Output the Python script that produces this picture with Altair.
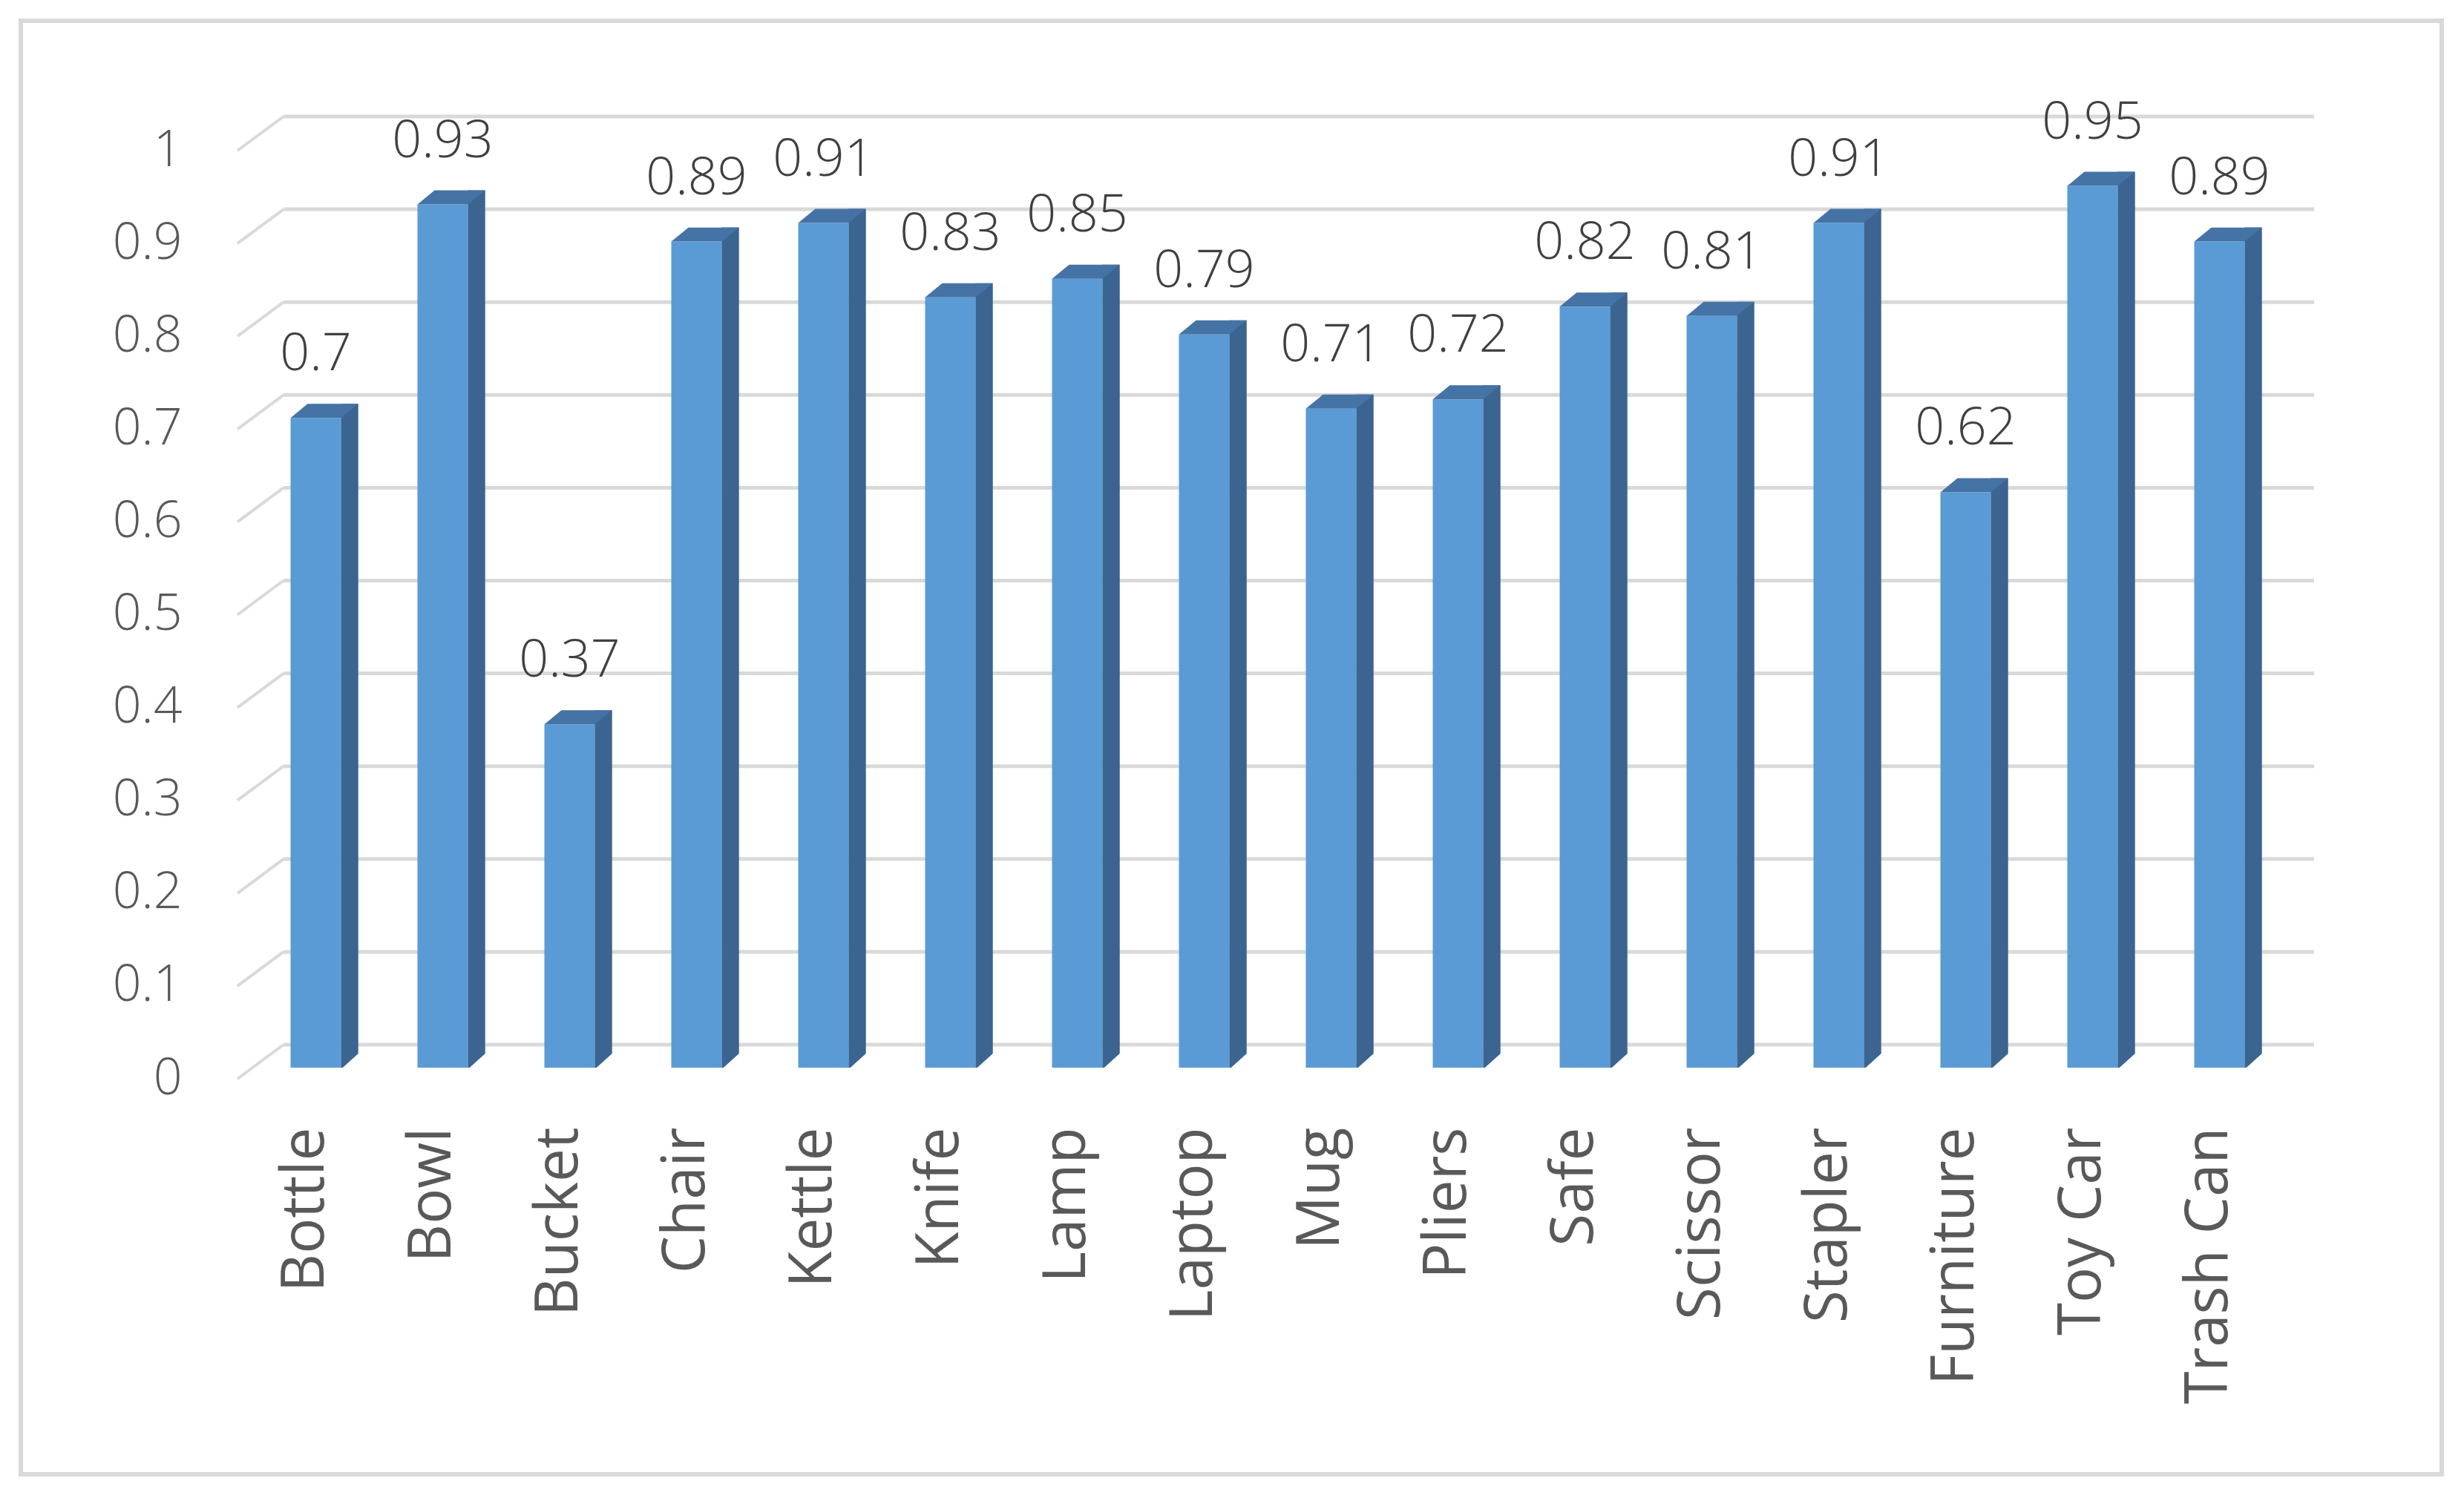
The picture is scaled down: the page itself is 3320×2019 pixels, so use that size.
import altair as alt
import pandas as pd

categories = ["Bottle", "Bowl", "Bucket", "Chair", "Kettle", "Knife", "Lamp", "Laptop",
              "Mug", "Pliers", "Safe", "Scissor", "Stapler", "Furniture", "Toy Car", "Trash Can"]
values = [0.7, 0.93, 0.37, 0.89, 0.91, 0.83, 0.85, 0.79, 0.71, 0.72, 0.82, 0.81, 0.91, 0.62, 0.95, 0.89]
y_ticks = [0, 0.1, 0.2, 0.3, 0.4, 0.5, 0.6, 0.7, 0.8, 0.9, 1]

df = pd.DataFrame({"cat": categories, "value": values, "zero": [0] * len(values)})
grid_df = pd.DataFrame({"v": y_ticks})

W, H = 2736, 1251
FONT = "Open Sans"
FRONT = "#5B9BD5"
SIDE = "#3B6590"
TOP = "#4573A5"
GRID = "#D9D9D9"
TXT = "#595959"

xenc = alt.X("cat:N", sort=categories, scale=alt.Scale(paddingInner=0, paddingOuter=0),
             axis=alt.Axis(title=None, labelAngle=-90, labelFontSize=80, labelFont=FONT,
                           labelColor=TXT, labelPadding=80, labelOffset=-14, ticks=False,
                           tickSize=0, domain=False, grid=False, labelAlign="right",
                           labelBaseline="middle", labelFontWeight="normal", labelLimit=2000))
yscale = alt.Scale(domain=[0, 1], nice=False, zero=True)

border = alt.Chart(pd.DataFrame({"a": [0]})).mark_rect(
    fill=None, stroke=GRID, strokeWidth=6
).encode(x=alt.value(-312), x2=alt.value(2950), y=alt.value(-160), y2=alt.value(1799))

grid = alt.Chart(grid_df).mark_rule(color=GRID, strokeWidth=5, yOffset=-31, y2Offset=-31).encode(
    y=alt.Y("v:Q", scale=yscale), x=alt.value(42), x2=alt.value(W + 42)
)
diag = alt.Chart(grid_df).mark_rule(color=GRID, strokeWidth=4, yOffset=15, y2Offset=-31).encode(
    y=alt.Y("v:Q", scale=yscale), y2="v:Q", x=alt.value(-20), x2=alt.value(42)
)

base = alt.Chart(df)

side = base.mark_bar(color=SIDE, width=23.5, xOffset=45.5, yOffset=-19).encode(
    x=xenc, y=alt.Y("value:Q", scale=yscale), y2="zero:Q"
)

front = base.mark_bar(color=FRONT, width=68).encode(
    x=xenc,
    y=alt.Y("value:Q", scale=yscale,
            axis=alt.Axis(title=None, values=y_ticks, format="~g", labelFontSize=68,
                          labelFont=FONT, labelColor=TXT, labelPadding=95, labelOffset=15,
                          labelFontWeight=300,
                          ticks=False, tickSize=0, domain=False, grid=False)),
    y2="zero:Q",
)

top = base.mark_point(
    shape="M -0.486 0 L 0.486 0 L 0.814 -0.271 L -0.157 -0.271 Z",
    filled=True, size=19600, color=TOP, opacity=1, strokeWidth=0
).encode(x=xenc, y=alt.Y("value:Q", scale=yscale))

bottom_cut = base.mark_point(
    shape="M 0.486 0.03 L 0.85 0.03 L 0.85 -0.3 Z",
    filled=True, size=19600, color="white", opacity=1, strokeWidth=0
).encode(x=xenc, y=alt.Y("zero:Q", scale=yscale))

labels = base.mark_text(dy=-64, baseline="alphabetic", fontSize=70, font=FONT, fontWeight=300,
                        color="#404040").encode(
    x=xenc, y=alt.Y("value:Q", scale=yscale), text=alt.Text("value:Q", format="~g")
)

chart = alt.layer(border, grid, diag, side, front, top, bottom_cut, labels).properties(
    width=W, height=H,
    autosize=alt.AutoSizeParams(type="none"),
    padding={"left": 332, "top": 180, "right": 230, "bottom": 560},
    background="white",
).configure_view(strokeWidth=0)

chart.save("out.html", embed_options={"renderer": "svg", "actions": False})
